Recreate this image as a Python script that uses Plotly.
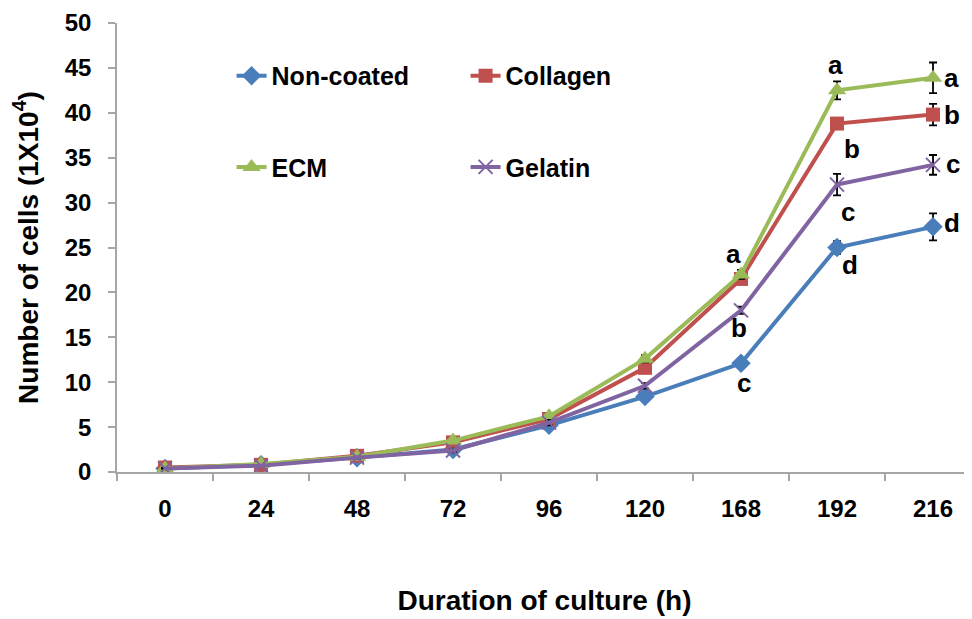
import plotly.graph_objects as go

hours = ["0", "24", "48", "72", "96", "120", "168", "192", "216"]

non_coated = [0.4, 0.8, 1.6, 2.5, 5.2, 8.4, 12.1, 25.0, 27.3]
collagen   = [0.5, 0.8, 1.8, 3.3, 5.9, 11.6, 21.5, 38.8, 39.8]
ecm        = [0.4, 0.9, 1.7, 3.5, 6.2, 12.6, 22.0, 42.5, 43.9]
gelatin    = [0.4, 0.7, 1.6, 2.4, 5.5, 9.6, 18.0, 32.0, 34.2]

err_non_coated = [0.05, 0.1, 0.1, 0.2, 0.2, 0.3, 0.4, 0.7, 1.5]
err_collagen   = [0.05, 0.1, 0.1, 0.2, 0.3, 0.4, 0.5, 0.5, 1.2]
err_ecm        = [0.05, 0.1, 0.1, 0.2, 0.3, 0.4, 0.5, 1.0, 1.7]
err_gelatin    = [0.05, 0.1, 0.1, 0.2, 0.3, 0.3, 0.4, 1.2, 1.1]

y_ticks = list(range(0, 51, 5))

FONT = "Liberation Sans, Arial, sans-serif"
AXIS_GRAY = "#a6a6a6"

series = [
    ("Non-coated", non_coated, err_non_coated, "#4a7ebb", "diamond", 15, "legend"),
    ("Collagen", collagen, err_collagen, "#c0504d", "square", 14, "legend"),
    ("ECM", ecm, err_ecm, "#9bbb59", "triangle-up", 16, "legend2"),
    ("Gelatin", gelatin, err_gelatin, "#8064a2", "x-thin", 14, "legend2"),
]

fig = go.Figure()
for name, vals, errs, color, sym, size, lg in series:
    marker = dict(symbol=sym, size=size, color=color)
    if sym == "x-thin":
        marker["line"] = dict(color=color, width=2)
    fig.add_trace(go.Scatter(
        x=hours, y=vals, name=name, mode="lines+markers",
        line=dict(color=color, width=4),
        marker=marker,
        error_y=dict(type="data", array=errs, visible=True,
                     color="black", thickness=1.8, width=4),
        legend=lg,
    ))

# significance letters: (hour index, series values, letter, xshift, yshift)
letters = [
    (6, ecm, "a", -8, 20),
    (6, gelatin, "b", -2, -18),
    (6, non_coated, "c", 3, -20),
    (7, ecm, "a", -2, 25),
    (7, collagen, "b", 15, -25),
    (7, gelatin, "c", 11, -27),
    (7, non_coated, "d", 13, -17),
    (8, ecm, "a", 18, 0),
    (8, collagen, "b", 19, 0),
    (8, gelatin, "c", 20, 1),
    (8, non_coated, "d", 19, 4),
]
for idx, vals, txt, dx, dy in letters:
    fig.add_annotation(
        x=idx, y=vals[idx], xref="x", yref="y", text=txt, showarrow=False,
        xshift=dx, yshift=dy,
        font=dict(family=FONT, size=26, color="black", weight="bold"),
    )

legend_font = dict(family=FONT, size=25, color="black", weight="bold")

fig.update_layout(
    width=964, height=611,
    margin=dict(l=109, r=0, t=15, b=147),
    paper_bgcolor="white", plot_bgcolor="white",
    font=dict(family=FONT, color="black"),
    legend=dict(
        orientation="h", x=0.134, y=0.882, xanchor="left", yanchor="middle",
        entrywidth=189, entrywidthmode="pixels",
        font=legend_font, bgcolor="rgba(0,0,0,0)",
    ),
    legend2=dict(
        orientation="h", x=0.134, y=0.679, xanchor="left", yanchor="middle",
        entrywidth=189, entrywidthmode="pixels",
        font=legend_font, bgcolor="rgba(0,0,0,0)",
    ),
    xaxis=dict(
        type="category", range=[-0.5, 8.406],
        tickson="boundaries", ticks="outside", ticklen=7, tickwidth=1.5,
        tickcolor=AXIS_GRAY, showline=True, linecolor=AXIS_GRAY, linewidth=1.5,
        showgrid=False, zeroline=False,
        tickfont=dict(family=FONT, size=24, color="black", weight="bold"),
        ticklabelstandoff=14,
        title=dict(text="Duration of culture (h)", standoff=70,
                   font=dict(family=FONT, size=28, color="black", weight="bold")),
        automargin=False,
    ),
    yaxis=dict(
        range=[0, 50], tickvals=y_ticks, ticks="outside", ticklen=7, tickwidth=1.5,
        tickcolor=AXIS_GRAY, showline=True, linecolor=AXIS_GRAY, linewidth=1.5,
        showgrid=False, zeroline=False,
        tickfont=dict(family=FONT, size=24, color="black", weight="bold"),
        ticklabelstandoff=12,
        title=dict(text="Number of cells (1X10<sup>4</sup>)", standoff=22,
                   font=dict(family=FONT, size=28, color="black", weight="bold")),
        automargin=False,
    ),
    showlegend=True,
)

fig.write_html("out.html")
